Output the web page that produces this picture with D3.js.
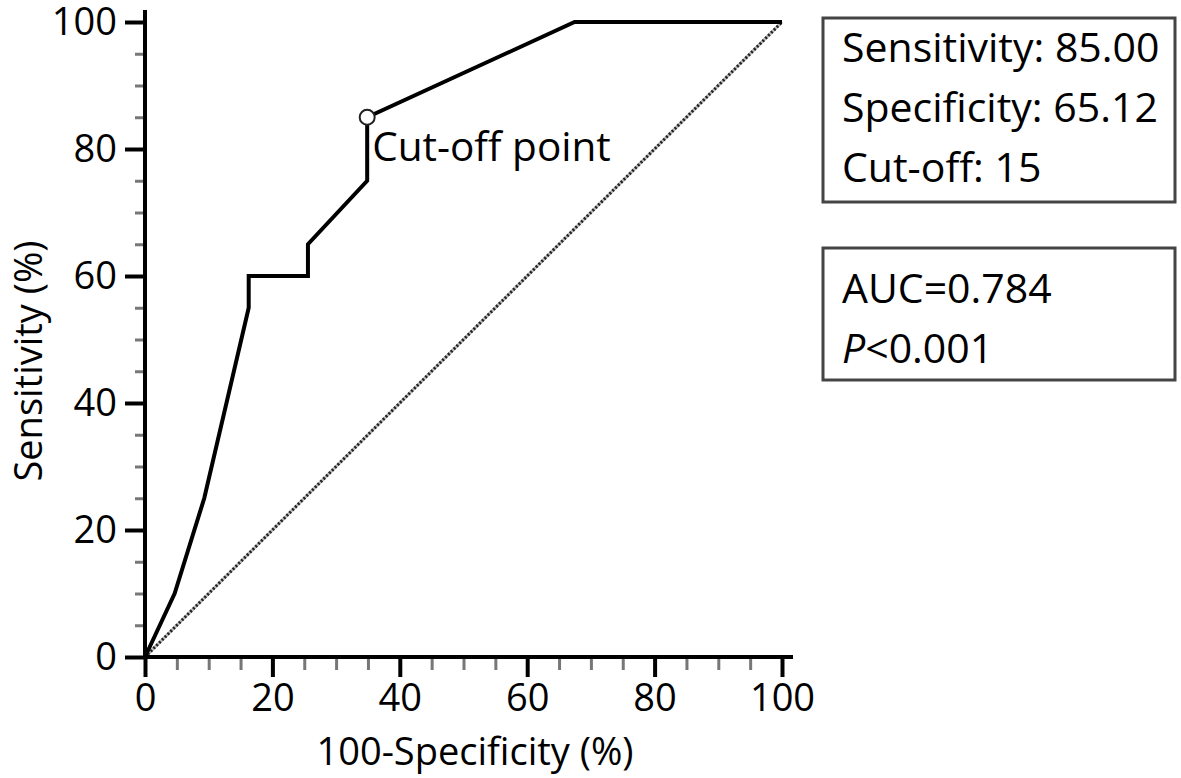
<!DOCTYPE html>
<html>
<head>
<meta charset="utf-8">
<script src="https://cdn.jsdelivr.net/npm/d3@7"></script>
<style>
  body { margin: 0; background: #fff; }
  svg text { font-family: "Open Sans", "Noto Sans", sans-serif; fill: #000; }
</style>
</head>
<body>
<svg id="chart" width="1181" height="778"></svg>
<script>
// ROC curve points (100-specificity, sensitivity)
const fpr = [0, 4.65, 9.30, 16.28, 16.28, 25.58, 25.58, 34.88, 34.88, 67.44, 100];
const tpr = [0, 10, 25, 55, 60, 60, 65, 75, 85, 100, 100];
const cutoff = { x: 34.88, y: 85 };
const majorTicks = [0, 20, 40, 60, 80, 100];
const minorTicks = [5, 10, 15, 25, 30, 35, 45, 50, 55, 65, 70, 75, 85, 90, 95];
const statsLines = ["Sensitivity: 85.00", "Specificity: 65.12", "Cut-off: 15"];

const svg = d3.select("#chart");
const x = d3.scaleLinear().domain([0, 100]).range([145, 782]);
const y = d3.scaleLinear().domain([0, 100]).range([657, 22]);

const fontSize = 38;

// minor ticks first (gray, short)
svg.append("g")
  .attr("transform", `translate(0,${y(0)})`)
  .call(d3.axisBottom(x).tickValues(minorTicks).tickSize(13).tickFormat("").tickSizeOuter(0))
  .call(g => g.select(".domain").remove())
  .call(g => g.selectAll("line").attr("stroke", "#777").attr("stroke-width", 3));
svg.append("g")
  .attr("transform", `translate(${x(0)},0)`)
  .call(d3.axisLeft(y).tickValues(minorTicks).tickSize(10).tickFormat("").tickSizeOuter(0))
  .call(g => g.select(".domain").remove())
  .call(g => g.selectAll("line").attr("stroke", "#777").attr("stroke-width", 3));

// major ticks with labels
svg.append("g")
  .attr("transform", `translate(0,${y(0)})`)
  .call(d3.axisBottom(x).tickValues(majorTicks).tickSize(20).tickPadding(7).tickSizeOuter(0))
  .call(g => g.select(".domain").remove())
  .call(g => g.selectAll("line").attr("stroke", "#000").attr("stroke-width", 4))
  .call(g => g.selectAll("text").attr("font-size", fontSize).attr("font-family", null).attr("fill", "#000"));
svg.append("g")
  .attr("transform", `translate(${x(0)},0)`)
  .call(d3.axisLeft(y).tickValues(majorTicks).tickSize(20).tickPadding(8).tickSizeOuter(0))
  .call(g => g.select(".domain").remove())
  .call(g => g.selectAll("line").attr("stroke", "#000").attr("stroke-width", 4))
  .call(g => g.selectAll("text").attr("font-size", fontSize).attr("font-family", null).attr("fill", "#000"));

// reference diagonal
svg.append("line")
  .attr("x1", x(0)).attr("y1", y(0)).attr("x2", x(100)).attr("y2", y(100))
  .attr("stroke", "#bbb").attr("stroke-width", 3);
svg.append("line")
  .attr("x1", x(0)).attr("y1", y(0)).attr("x2", x(100)).attr("y2", y(100))
  .attr("stroke", "#222").attr("stroke-width", 3).attr("stroke-dasharray", "2,2");

// axis lines, slightly past 100 like the original
svg.append("path")
  .attr("d", `M${x(0)},${y(0)}V${y(100) - 12}`)
  .attr("stroke", "#000").attr("stroke-width", 4).attr("fill", "none");
svg.append("path")
  .attr("d", `M${x(0) - 2},${y(0)}H${x(100) + 11}`)
  .attr("stroke", "#000").attr("stroke-width", 4).attr("fill", "none");

// ROC curve
const line = d3.line().x((d, i) => x(fpr[i])).y((d, i) => y(tpr[i]));
svg.append("path")
  .datum(fpr)
  .attr("d", line)
  .attr("fill", "none")
  .attr("stroke", "#000")
  .attr("stroke-width", 4)
  .attr("stroke-linejoin", "miter");

// cut-off marker
svg.append("circle")
  .attr("cx", x(cutoff.x)).attr("cy", y(cutoff.y)).attr("r", 7.5)
  .attr("fill", "#fff").attr("stroke", "#222").attr("stroke-width", 2);
svg.append("text")
  .attr("x", x(cutoff.x) + 5).attr("y", y(cutoff.y) + 44)
  .attr("font-size", 40.5)
  .text("Cut-off point");

// axis titles
svg.append("text")
  .attr("x", 475).attr("y", 765)
  .attr("text-anchor", "middle").attr("font-size", fontSize)
  .text("100-Specificity (%)");
svg.append("text")
  .attr("transform", "translate(42,361) rotate(-90)")
  .attr("text-anchor", "middle").attr("font-size", fontSize)
  .text("Sensitivity (%)");

// stats boxes
svg.append("rect")
  .attr("x", 823).attr("y", 18).attr("width", 352).attr("height", 184)
  .attr("fill", "none").attr("stroke", "#444").attr("stroke-width", 3);
svg.selectAll("text.stat")
  .data(statsLines)
  .enter()
  .append("text")
  .attr("class", "stat")
  .attr("x", 842)
  .attr("y", (d, i) => 62 + i * 60)
  .attr("font-size", 41)
  .text(d => d);

svg.append("rect")
  .attr("x", 823).attr("y", 248).attr("width", 352).attr("height", 132)
  .attr("fill", "none").attr("stroke", "#444").attr("stroke-width", 3);
svg.append("text")
  .attr("x", 842).attr("y", 303).attr("font-size", 41)
  .text("AUC=0.784");
const pText = svg.append("text")
  .attr("x", 842).attr("y", 363).attr("font-size", 41);
pText.append("tspan").attr("font-style", "italic").text("P");
pText.append("tspan").text("<0.001");
</script>
</body>
</html>
